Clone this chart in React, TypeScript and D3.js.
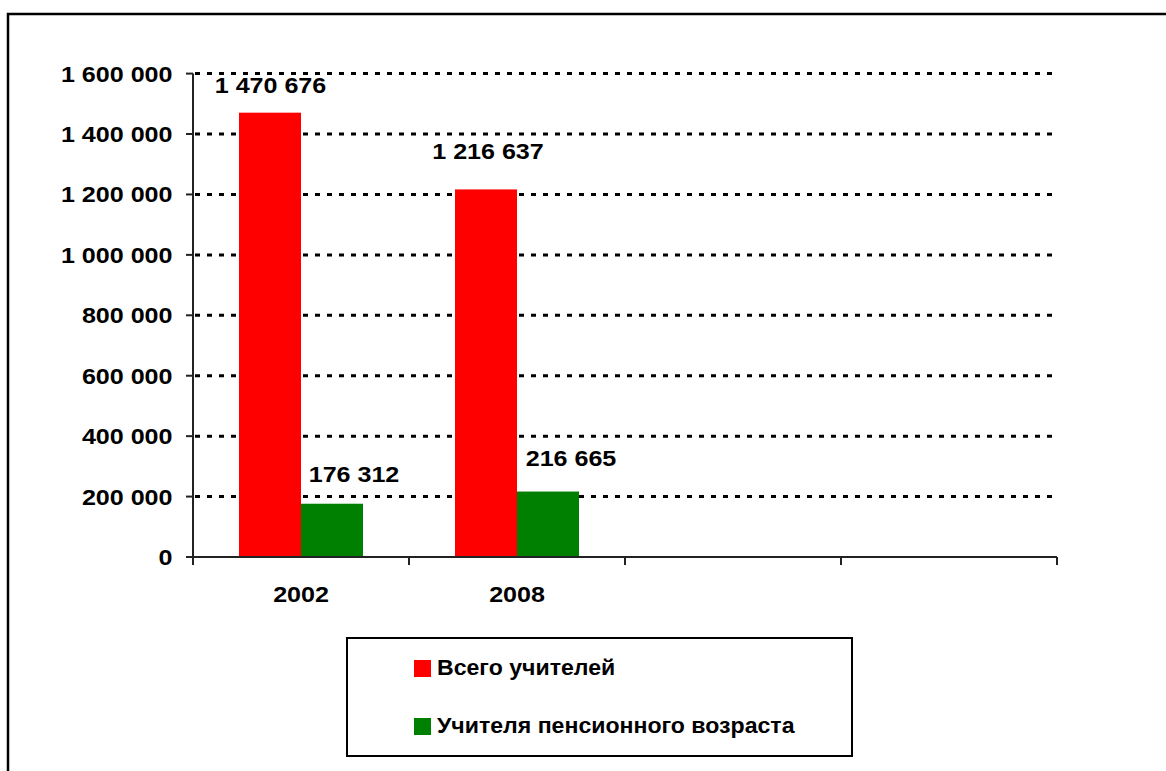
import React from "react";
import * as d3 from "d3";

const categories = ["2002", "2008", "", ""];
const seriesNames = ["Всего учителей", "Учителя пенсионного возраста"];
const seriesColors = ["#ff0000", "#008000"];
const totalTeachers = [1470676, 1216637];
const pensionTeachers = [176312, 216665];
const yTicks = [0, 200000, 400000, 600000, 800000, 1000000, 1200000, 1400000, 1600000];

// label placement offsets (style, not data)
const labelOffsets = [
  [[0.5, -20], [2, -30]],
  [[22, -22], [23, -26]],
];

const W = 1166, H = 771;
const fmt = (v: number) => d3.format(",")(v).replace(/,/g, " ");
const NUM_SX = 1.14;
const TXT_SX = 1.05;

function T({ x, y, sx, anchor, children }: { x: number; y: number; sx: number; anchor?: string; children: React.ReactNode }) {
  return (
    <text transform={`translate(${x},${y}) scale(${sx},1)`} textAnchor={anchor || "start"} fontWeight="bold" fontSize={22} fill="#000">
      {children}
    </text>
  );
}

export default function App() {
  const x = d3.scaleBand<string>().domain(categories.map((c, i) => i + ":" + c)).range([193, 1057]).paddingInner(0).paddingOuter(0);
  const y = d3.scaleLinear().domain([0, 1600000]).range([557, 73.6]);
  const groupPad = 46;
  const barW = (x.bandwidth() - 2 * groupPad) / 2;
  const font = "Arial, 'Liberation Sans', sans-serif";
  const series = [totalTeachers, pensionTeachers];

  return (
    <svg width={W} height={H} style={{ position: "absolute", left: 0, top: 0, background: "#fff" }} fontFamily={font}>
      <rect x={8} y={14} width={W + 20} height={H + 20} fill="#fff" stroke="#000" strokeWidth={2.5} />
      {yTicks.filter((t) => t > 0).map((t) => (
        <line key={t} x1={195} x2={1052} y1={y(t)} y2={y(t)} stroke="#000" strokeWidth={3} strokeDasharray="5,7" />
      ))}
      {series.map((vals, s) =>
        vals.map((v, i) => {
          const x0 = (x(i + ":" + categories[i]) as number) + groupPad + s * barW;
          return <rect key={s + "-" + i} x={x0} y={y(v)} width={barW} height={y(0) - y(v)} fill={seriesColors[s]} />;
        })
      )}
      {series.map((vals, s) =>
        vals.map((v, i) => {
          const cx = (x(i + ":" + categories[i]) as number) + groupPad + s * barW + barW / 2;
          const [dx, dy] = labelOffsets[s][i];
          return (
            <T key={"l" + s + "-" + i} x={cx + dx} y={y(v) + dy} sx={NUM_SX} anchor="middle">
              {fmt(v)}
            </T>
          );
        })
      )}
      <line x1={193} x2={193} y1={y(1600000)} y2={y(0)} stroke="#222" strokeWidth={2} />
      {yTicks.map((t) => (
        <g key={"yt" + t}>
          <line x1={186} x2={193} y1={y(t)} y2={y(t)} stroke="#222" strokeWidth={2} />
          <T x={172.5} y={y(t) + 8} sx={NUM_SX} anchor="end">
            {fmt(t)}
          </T>
        </g>
      ))}
      <line x1={193} x2={1057} y1={y(0)} y2={y(0)} stroke="#222" strokeWidth={2} />
      {categories.map((c, i) => {
        const bx = x(i + ":" + c) as number;
        return (
          <g key={"xt" + i}>
            <line x1={bx} x2={bx} y1={y(0)} y2={y(0) + 8} stroke="#222" strokeWidth={2} />
            <line x1={bx + x.bandwidth()} x2={bx + x.bandwidth()} y1={y(0)} y2={y(0) + 8} stroke="#222" strokeWidth={2} />
            {c && (
              <T x={bx + x.bandwidth() / 2} y={602} sx={NUM_SX} anchor="middle">
                {c}
              </T>
            )}
          </g>
        );
      })}
      <rect x={347} y={638} width={505} height={118} fill="#fff" stroke="#000" strokeWidth={2} />
      {seriesNames.map((n, i) => (
        <g key={"lg" + i}>
          <rect x={414} y={660 + i * 58} width={17} height={17} fill={seriesColors[i]} />
          <T x={437} y={675 + i * 58} sx={TXT_SX}>
            {n}
          </T>
        </g>
      ))}
    </svg>
  );
}
